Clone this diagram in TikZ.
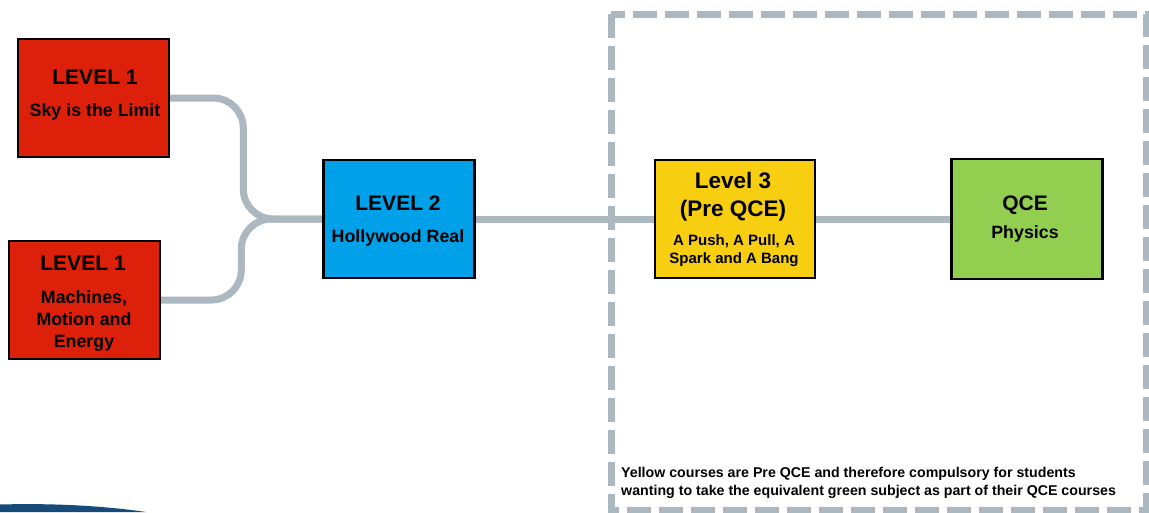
\documentclass[tikz,border=0pt]{standalone}
\usepackage{fontspec}
\setmainfont{Liberation Sans}
\usetikzlibrary{backgrounds,calc}

\definecolor{lvlred}{RGB}{221,32,10}
\definecolor{lvlblue}{RGB}{0,161,232}
\definecolor{lvlyellow}{RGB}{247,206,16}
\definecolor{lvlgreen}{RGB}{146,206,80}
\definecolor{linkgrey}{RGB}{171,184,192}
\definecolor{wavenavy}{RGB}{22,74,120}

\tikzset{
  course/.style={draw=black, line width=2.4pt, rectangle, inner sep=0pt,
                 minimum width=151pt, minimum height=118pt},
  link/.style={draw=linkgrey, line width=7pt, line cap=round},
  title/.style={font=\bfseries\fontsize{21}{24}\selectfont, anchor=base, inner sep=0pt},
  sub/.style={font=\bfseries\fontsize{17.8}{20}\selectfont, anchor=base, inner sep=0pt},
  small/.style={font=\bfseries\fontsize{15}{18}\selectfont, anchor=base, inner sep=0pt},
  note/.style={font=\bfseries\fontsize{14.2}{18}\selectfont, anchor=base west, inner sep=0pt},
}

\begin{document}
\begin{tikzpicture}[x=1pt,y=-1pt]
  \useasboundingbox (0,0) rectangle (1149,512);

  % navy wave in the lower left corner
  \fill[wavenavy] (0,512) -- (0,504.5) .. controls (55,503) and (105,506) .. (146,512) -- cycle;

  % dashed frame around the Pre QCE / QCE area
  \draw[linkgrey, line width=7pt, dash pattern=on 24pt off 8pt]
    (611,14) rectangle (1146,510);

  % course boxes
  \node[course, fill=lvlred]    (skybox)  at (93.5,98)  {};
  \node[course, fill=lvlred]    (mmebox)  at (84.5,300) {};
  \node[course, fill=lvlblue]   (hollybox) at (399,219) {};
  \node[course, fill=lvlyellow, minimum width=160pt] (pushbox) at (735,219) {};
  \node[course, fill=lvlgreen, minimum height=120pt] (physbox) at (1027,219) {};

  % box texts
  \node[title] (skyt)  at (95,84.5)  {LEVEL 1};
  \node[sub]   (skys)  at (95,116.5) {Sky is the Limit};

  \node[title] (mmet)  at (83,270.5) {LEVEL 1};
  \node[sub]   (mme1)  at (84,303)   {Machines,};
  \node[sub]   (mme2)  at (84,325)   {Motion and};
  \node[sub]   (mme3)  at (84,347)   {Energy};

  \node[title] (hollyt) at (398,210) {LEVEL 2};
  \node[sub]   (hollys) at (398,242) {Hollywood Real};

  \node[title, font=\bfseries\fontsize{22.5}{24}\selectfont] (pusht1) at (733,188) {Level 3};
  \node[title, font=\bfseries\fontsize{22.5}{24}\selectfont] (pusht2) at (733,216) {(Pre QCE)};
  \node[small] (pushs1) at (734,245) {A Push, A Pull, A};
  \node[small] (pushs2) at (734,263) {Spark and A Bang};

  \node[title] (physt) at (1025,210) {QCE};
  \node[sub]   (physs) at (1025,238) {Physics};

  % footnote inside the frame
  \node[note] (note1) at (621,477) {Yellow courses are Pre QCE and therefore compulsory for students};
  \node[note] (note2) at (621,495) {wanting to take the equivalent green subject as part of their QCE courses};

  % page background and connectors, kept behind the boxes
  \begin{scope}[on background layer]
    \fill[white] (0,0) rectangle (1149,512);
    \draw[link, rounded corners=30pt] (skybox.east) -| ([xshift=-79pt]hollybox.west) -- (hollybox.west);
    \draw[link, rounded corners=30pt] (mmebox.east) -| ([xshift=-81pt]hollybox.west) -- (hollybox.west);
    \draw[link] (hollybox.east) -- (pushbox.west);
    \draw[link] (pushbox.east) -- (physbox.west);
  \end{scope}
\end{tikzpicture}
\end{document}
